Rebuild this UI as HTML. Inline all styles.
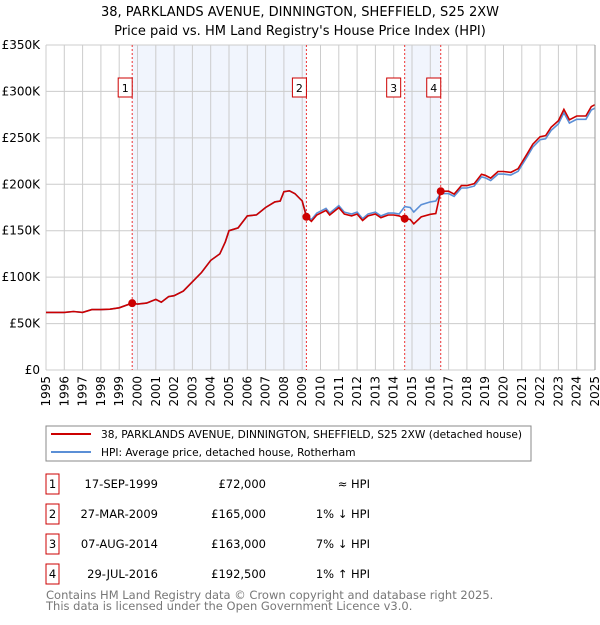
<!DOCTYPE html>
<html><head><meta charset="utf-8"><style>
body{margin:0;width:600px;height:620px;background:#fff;font-family:"Liberation Sans","DejaVu Sans",sans-serif;overflow:hidden}
svg text{font-family:"DejaVu Sans","Liberation Sans",sans-serif}
</style></head><body>
<svg id="c" width="600" height="620">
<text x="300" y="16" text-anchor="middle" font-size="13">38, PARKLANDS AVENUE, DINNINGTON, SHEFFIELD, S25 2XW</text>
<text x="300" y="35" text-anchor="middle" font-size="13">Price paid vs. HM Land Registry's House Price Index (HPI)</text>
<g id="plot"></g>
<g>
<rect x="46" y="426" width="485" height="35" fill="#fff" stroke="#888"/>
<line x1="51" y1="434" x2="91" y2="434" stroke="#cc0000" stroke-width="2"/>
<text x="101" y="438" font-size="10.6">38, PARKLANDS AVENUE, DINNINGTON, SHEFFIELD, S25 2XW (detached house)</text>
<line x1="51" y1="452" x2="91" y2="452" stroke="#5b8fd6" stroke-width="2"/>
<text x="101" y="456" font-size="10.6">HPI: Average price, detached house, Rotherham</text>
</g>
<g id="table"></g>
<text x="46" y="599" font-size="11.5" fill="#777">Contains HM Land Registry data © Crown copyright and database right 2025.</text>
<text x="46" y="610" font-size="11.5" fill="#777">This data is licensed under the Open Government Licence v3.0.</text>
</svg>
<script>
const hpiYears=[1995,1996,1996.5,1997,1997.5,1998,1998.5,1999,1999.71,2000,2000.5,2001,2001.3,2001.7,2002,2002.5,2003,2003.5,2004,2004.5,2004.8,2005,2005.5,2006,2006.5,2007,2007.5,2007.8,2008,2008.3,2008.6,2009,2009.23,2009.5,2009.8,2010.3,2010.5,2011,2011.3,2011.7,2012,2012.3,2012.6,2013,2013.3,2013.7,2014,2014.3,2014.6,2014.9,2015.1,2015.5,2016,2016.3,2016.57,2017,2017.3,2017.7,2018,2018.4,2018.8,2019,2019.3,2019.7,2020,2020.4,2020.8,2021.3,2021.6,2022,2022.3,2022.6,2023,2023.3,2023.6,2024,2024.5,2024.8,2025];
const hpiValues=[62,62,63,62,65,65,65.5,67,72,71,72,76,73,79,80,85,95,105,118,125,138,150,153,166,167,175,181,182,192,193,190,182,167,162,169,174,169,177,170,168,170,163,168,170,166,169,169,168,176,175,170,178,181,182,190,190,187,196,196,198,208,207,204,211,211,210,214,230,240,248,249,258,265,277,266,270,270,280,282];
const saleYears=[1999.71,2009.23,2014.6,2016.57];
const salePrices=[72,165,163,192.5];
const saleLabels=["1","2","3","4"];
const saleDates=["17-SEP-1999","27-MAR-2009","07-AUG-2014","29-JUL-2016"];
const salePriceText=["£72,000","£165,000","£163,000","£192,500"];
const saleHpiText=["≈ HPI","1% ↓ HPI","7% ↓ HPI","1% ↑ HPI"];
const yTicks=[0,50,100,150,200,250,300,350];
const yTickLabels=["£0","£50K","£100K","£150K","£200K","£250K","£300K","£350K"];
const xTicks=[1995,1996,1997,1998,1999,2000,2001,2002,2003,2004,2005,2006,2007,2008,2009,2010,2011,2012,2013,2014,2015,2016,2017,2018,2019,2020,2021,2022,2023,2024,2025];

const NS="http://www.w3.org/2000/svg";
const X0=46,X1=595,Y0=370,Y1=45;
const xs=y=>X0+(y-1995)/30*(X1-X0);
const ys=v=>Y0-v/350*(Y0-Y1);
const g=document.getElementById('plot');
function mk(tag,attrs,parent){const e=document.createElementNS(NS,tag);for(const k in attrs)e.setAttribute(k,attrs[k]);(parent||g).appendChild(e);return e;}
function interp(t){for(let i=1;i<hpiYears.length;i++){if(t<=hpiYears[i]){const a=hpiYears[i-1],b=hpiYears[i];return hpiValues[i-1]+(hpiValues[i]-hpiValues[i-1])*(t-a)/(b-a);}}return hpiValues[hpiValues.length-1];}
[[0,1],[2,3]].forEach((p,i)=>{
 const r=mk('rect',{x:xs(saleYears[p[0]]),y:Y1,width:xs(saleYears[p[1]])-xs(saleYears[p[0]]),height:Y0-Y1,fill:'#eef3fc',opacity:0.8});
 
 
});
xTicks.forEach((t,i)=>{
 const l=mk('line',{x1:xs(t),x2:xs(t),y1:Y1,y2:Y0,stroke:'#ccc','stroke-width':1});
 
 
 const tx=mk('text',{x:0,y:0,transform:`translate(${xs(t)+4},${Y0+6}) rotate(-90)`,'text-anchor':'end','font-size':12});
 tx.textContent=t;
 
 
});
yTicks.forEach((t,i)=>{
 const l=mk('line',{x1:X0,x2:X1,y1:ys(t),y2:ys(t),stroke:'#ccc','stroke-width':1});
 
 
 const tx=mk('text',{x:X0-6,y:ys(t)+4,'text-anchor':'end','font-size':12});
 tx.textContent=yTickLabels[i];
 
 
});
saleYears.forEach((s,i)=>{
 const l=mk('line',{x1:xs(s),x2:xs(s),y1:Y1,y2:Y0,stroke:'#e33','stroke-width':1,'stroke-dasharray':'2,2'});
 
 
 const bx=xs(s)-(i==2?11:7)-7;
 const r=mk('rect',{x:bx,y:78,width:14,height:19,fill:'#fff',stroke:'#cc0000'});
 
 
 const tx=mk('text',{x:bx+7,y:92,'text-anchor':'middle','font-size':11});
 tx.textContent=saleLabels[i];
 
 
});
let d='';hpiYears.forEach((t,i)=>{d+=(i?'L':'M')+xs(t).toFixed(1)+','+ys(hpiValues[i]).toFixed(1);});
const hp=mk('path',{d:d,fill:'none',stroke:'#5b8fd6','stroke-width':1.6});


function ratioAt(t){let k=-1;for(let i=0;i<saleYears.length;i++)if(t>=saleYears[i])k=i;const j=k<0?0:k;return salePrices[j]/interp(saleYears[j]);}
let pts=[];
hpiYears.forEach((t,i)=>{
 saleYears.forEach((s,j)=>{if(i>0&&hpiYears[i-1]<s&&t>s){pts.push([s,interp(s)*ratioAt(s-1e-6)]);pts.push([s,salePrices[j]]);}});
 pts.push([t,hpiValues[i]*ratioAt(t)]);
});
let d2='';pts.forEach((p,i)=>{d2+=(i?'L':'M')+xs(p[0]).toFixed(1)+','+ys(p[1]).toFixed(1);});
const pp=mk('path',{d:d2,fill:'none',stroke:'#cc0000','stroke-width':1.6});


saleYears.forEach((s,i)=>{
 const c=mk('circle',{cx:xs(s),cy:ys(salePrices[i]),r:4,fill:'#cc0000'});
 
 
});
mk('line',{x1:X1,x2:X1,y1:Y1,y2:Y0,stroke:'#999'});
const tb=document.getElementById('table');
saleYears.forEach((s,i)=>{
 const y=483+i*30;
 const r=mk('rect',{x:46,y:y-9,width:13,height:20,fill:'#fff',stroke:'#cc0000'},tb);
 
 
 const vals=[[52.5,saleLabels[i],'middle'],[158,saleDates[i],'end'],[266,salePriceText[i],'end'],[370,saleHpiText[i],'end']];
 vals.forEach((v,k)=>{
  const tx=mk('text',{x:v[0],y:y+5,'text-anchor':v[2],'font-size':11.5},tb);
  tx.textContent=v[1];
  
  
 });
});
</script>
</body></html>
